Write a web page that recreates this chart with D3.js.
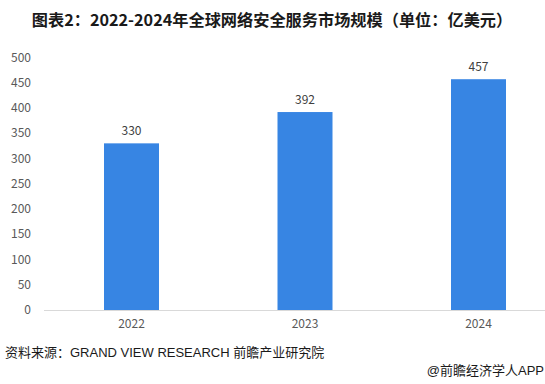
<!DOCTYPE html>
<html>
<head>
<meta charset="utf-8">
<script src="https://d3js.org/d3.v7.min.js"></script>
<style>
  body { margin: 0; background: #fff; }
  text { font-family: "Noto Sans CJK SC", "Noto Sans", sans-serif; }
  .latin { font-family: "Liberation Sans", "Noto Sans CJK SC", sans-serif; }
</style>
</head>
<body>
<svg width="545" height="384"></svg>
<script>
  var years = ["2022", "2023", "2024"];
  var values = [330, 392, 457];
  var yTicks = [0, 50, 100, 150, 200, 250, 300, 350, 400, 450, 500];

  var svg = d3.select("svg");

  // title
  svg.append("text")
    .attr("x", 272).attr("y", 26)
    .attr("text-anchor", "middle")
    .attr("font-size", "16.2px")
    .attr("font-weight", "bold")
    .attr("fill", "#1a1a1a")
    .text("图表2：2022-2024年全球网络安全服务市场规模（单位：亿美元）");

  var x = d3.scaleBand().domain(years)
    .range([44.75, 565.25])
    .paddingInner(0.683).paddingOuter(0.3415);
  var y = d3.scaleLinear().domain([0, 500]).range([310, 57.5]);

  // y tick labels
  svg.append("g").selectAll("text")
    .data(yTicks).enter().append("text")
    .attr("x", 31).attr("y", function(d) { return y(d); })
    .attr("dy", "0.35em")
    .attr("text-anchor", "end")
    .attr("font-size", "12px")
    .attr("fill", "#595959")
    .text(function(d) { return d; });

  // bars
  svg.append("g").selectAll("rect")
    .data(values).enter().append("rect")
    .attr("x", function(d, i) { return x(years[i]); })
    .attr("y", function(d) { return y(d); })
    .attr("width", x.bandwidth())
    .attr("height", function(d) { return y(0) - y(d); })
    .attr("fill", "#3785e3");

  // value labels
  svg.append("g").selectAll("text")
    .data(values).enter().append("text")
    .attr("x", function(d, i) { return x(years[i]) + x.bandwidth() / 2; })
    .attr("y", function(d) { return y(d) - 8; })
    .attr("text-anchor", "middle")
    .attr("font-size", "12px")
    .attr("fill", "#404040")
    .text(function(d) { return d; });

  // x axis
  svg.append("line")
    .attr("x1", 44).attr("x2", 545)
    .attr("y1", 310.5).attr("y2", 310.5)
    .attr("stroke", "#d9d9d9");

  svg.append("g").selectAll("text")
    .data(years).enter().append("text")
    .attr("x", function(d) { return x(d) + x.bandwidth() / 2; })
    .attr("y", 328)
    .attr("text-anchor", "middle")
    .attr("font-size", "12px")
    .attr("fill", "#595959")
    .text(function(d) { return d; });

  // source
  svg.append("text")
    .attr("class", "latin")
    .attr("x", 5).attr("y", 357)
    .attr("font-size", "13px")
    .attr("fill", "#1a1a1a")
    .text("资料来源：GRAND VIEW RESEARCH 前瞻产业研究院");

  svg.append("text")
    .attr("class", "latin")
    .attr("x", 544).attr("y", 375)
    .attr("text-anchor", "end")
    .attr("font-size", "13px")
    .attr("fill", "#1a1a1a")
    .text("@前瞻经济学人APP");
</script>
</body>
</html>
